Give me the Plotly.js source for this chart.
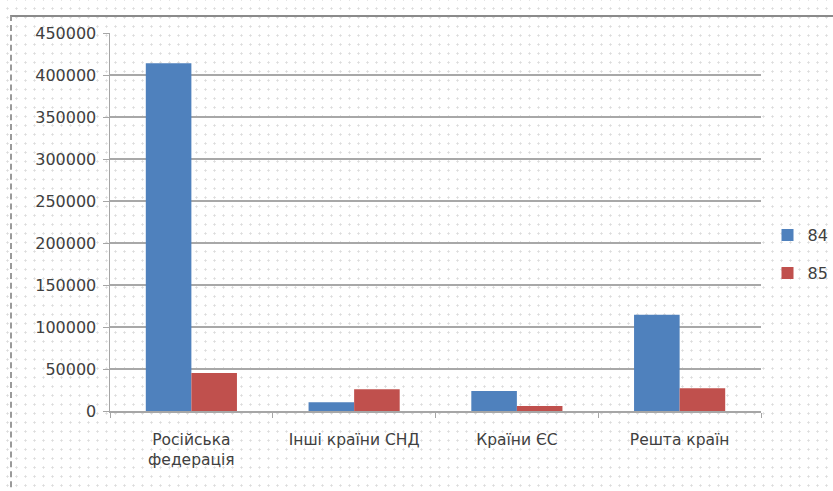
<!DOCTYPE html>
<html>
<head>
<meta charset="utf-8">
<script src="https://cdn.plot.ly/plotly-3.0.1.min.js"></script>
<style>
  html, body { margin: 0; padding: 0; background: #ffffff; }
  #wrap { position: relative; width: 833px; height: 491px; overflow: hidden;
    background-color: #ffffff;
    background-image: radial-gradient(circle, #dcdcdc 0.9px, transparent 1.3px);
    background-size: 9px 9px; background-position: 3px 4px; }
  #chart { position: absolute; left: 0; top: 0; width: 833px; height: 491px; }
  #frame { position: absolute; left: 10px; top: 15px; width: 840px; height: 490px;
    border-top: 2px solid #8a8a8a; border-left: 2px dashed #9a9a9a; pointer-events: none; }
</style>
</head>
<body>
<div id="wrap">
  <div id="chart"></div>
  <div id="frame"></div>
</div>
<script>
const categories = ["Російська<br>федерація", "Інші країни СНД", "Країни ЄС", "Решта країн"];
const seriesNames = ["84", "85"];
const values84 = [414000, 10500, 23800, 114700];
const values85 = [45200, 25800, 6000, 27000];
const yTicks = [0, 50000, 100000, 150000, 200000, 250000, 300000, 350000, 400000, 450000];

const xfont = {family: "DejaVu Sans", size: 15.5, color: "#404040"};
const yfont = {family: "DejaVu Sans", size: 16, color: "#404040"};

const traces = [
  {type: "bar", name: seriesNames[0], x: categories, y: values84,
   marker: {color: "#4F81BD"}, legendgroup: "a"},
  {type: "bar", name: seriesNames[1], x: categories, y: values85,
   marker: {color: "#C0504D"}, legendgroup: "b"}
];

const layout = {
  width: 833, height: 491,
  paper_bgcolor: "rgba(0,0,0,0)", plot_bgcolor: "rgba(0,0,0,0)",
  margin: {l: 110, r: 72, t: 33, b: 80, autoexpand: false},
  font: xfont,
  barmode: "group", bargap: 0.44, bargroupgap: 0,
  showlegend: true,
  legend: {x: 1.01, xanchor: "left", y: 0.51, yanchor: "top",
    font: {family: "DejaVu Sans", size: 16, color: "#404040"},
    traceorder: "grouped", tracegroupgap: 14, itemwidth: 30, bgcolor: "rgba(0,0,0,0)"},
  xaxis: {type: "category", showgrid: false, showline: true, linecolor: "#a6a6a6", linewidth: 1.5,
    ticks: "outside", tickson: "boundaries", ticklen: 5, tickcolor: "#a6a6a6",
    tickfont: xfont, ticklabelstandoff: 14, zeroline: false, fixedrange: true},
  yaxis: {range: [0, 450000], tickvals: yTicks, ticktext: yTicks.map(String),
    showgrid: true, gridcolor: "#a8a8a8", gridwidth: 2,
    showline: true, linecolor: "#a6a6a6", linewidth: 1.5,
    ticks: "outside", ticklen: 6, tickcolor: "#a6a6a6", tickfont: yfont,
    ticklabelstandoff: 3, zeroline: false, fixedrange: true}
};

Plotly.newPlot("chart", traces, layout, {displayModeBar: false, staticPlot: true});
</script>
</body>
</html>
